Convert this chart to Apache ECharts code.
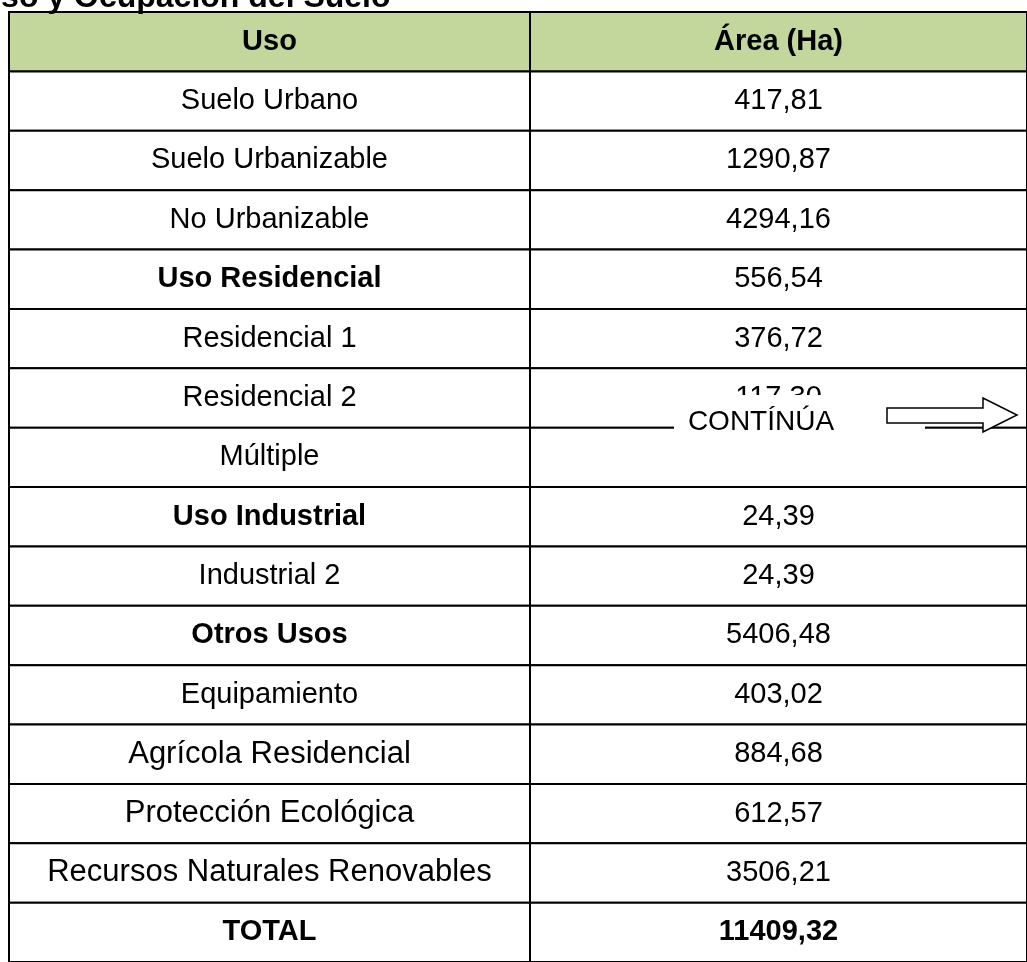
<!DOCTYPE html>
<html>
<head>
<meta charset="utf-8">
<title>Uso y Ocupación del Suelo</title>
<script src="https://cdn.jsdelivr.net/npm/echarts@6/dist/echarts.min.js"></script>
<style>
  html, body { margin: 0; padding: 0; background: #fff; }
  #main { width: 1027px; height: 962px; }
</style>
</head>
<body>
<div id="main"></div>
<script>
// datos de la tabla
var titulo = 'Uso y Ocupación del Suelo';
var encabezados = ['Uso', 'Área (Ha)'];
var usos = ['Suelo Urbano', 'Suelo Urbanizable', 'No Urbanizable', 'Uso Residencial', 'Residencial 1',
  'Residencial 2', 'Múltiple', 'Uso Industrial', 'Industrial 2', 'Otros Usos', 'Equipamiento',
  'Agrícola Residencial', 'Protección Ecológica', 'Recursos Naturales Renovables', 'TOTAL'];
var areas = [417.81, 1290.87, 4294.16, 556.54, 376.72, 117.30, null, 24.39, 24.39, 5406.48,
  403.02, 884.68, 612.57, 3506.21, 11409.32];
var usosNegrita = ['Uso Residencial', 'Uso Industrial', 'Otros Usos', 'TOTAL'];
var areasNegrita = ['TOTAL'];
// estas filas vienen con letra un poco mas grande en el original
var usosGrandes = ['Agrícola Residencial', 'Protección Ecológica', 'Recursos Naturales Renovables'];

var filas = ['__encabezado'].concat(usos);
var fuente = '"Liberation Sans", Arial, sans-serif';

function fmt(v) {
  return v == null ? '' : v.toFixed(2).replace('.', ',');
}

// una celda por fila, posicion sacada de los ejes
function celda(columna) {
  return function (params, api) {
    var i = api.value(1);
    var c = api.coord([0, i]);
    var s = api.size([1, 1]);
    var esEncabezado = i === 0;
    var texto, negrita, tam = 29;
    if (esEncabezado) {
      texto = encabezados[columna];
      negrita = true;
    } else if (columna === 0) {
      texto = usos[i - 1];
      negrita = usosNegrita.indexOf(texto) >= 0;
      if (usosGrandes.indexOf(texto) >= 0) tam = 31;
    } else {
      texto = fmt(areas[i - 1]);
      negrita = areasNegrita.indexOf(usos[i - 1]) >= 0;
    }
    return {
      type: 'group',
      children: [{
        type: 'rect',
        shape: { x: c[0] - s[0] / 2, y: c[1] - s[1] / 2, width: s[0], height: s[1] },
        style: { fill: esEncabezado ? '#c3d69b' : '#fff', stroke: '#000', lineWidth: 2 }
      }, {
        type: 'text',
        x: c[0],
        y: c[1],
        style: {
          text: texto,
          fill: '#000',
          font: (negrita ? 'bold ' : '') + tam + 'px ' + fuente,
          align: 'center',
          verticalAlign: 'middle'
        }
      }]
    };
  };
}

var myChart = echarts.init(document.getElementById('main'));
var option = {
  animation: false,
  grid: [
    { left: 9, top: 12, width: 521, height: 959 },
    { left: 530, top: 12, width: 498, height: 959 }
  ],
  xAxis: [
    { type: 'category', gridIndex: 0, data: [encabezados[0]], show: false },
    { type: 'category', gridIndex: 1, data: [encabezados[1]], show: false }
  ],
  yAxis: [
    { type: 'category', gridIndex: 0, data: filas, inverse: true, show: false },
    { type: 'category', gridIndex: 1, data: filas, inverse: true, show: false }
  ],
  series: [{
    type: 'custom',
    xAxisIndex: 0,
    yAxisIndex: 0,
    renderItem: celda(0),
    data: filas.map(function (f, i) { return [0, i]; }),
    silent: true
  }, {
    type: 'custom',
    xAxisIndex: 1,
    yAxisIndex: 1,
    renderItem: celda(1),
    data: filas.map(function (f, i) { return [0, i]; }),
    silent: true
  }],
  graphic: [{
    type: 'text',
    left: -22,
    top: -18,
    z: 100,
    style: { text: titulo, fill: '#000', font: 'bold 32px ' + fuente }
  }, {
    // recuadro blanco del aviso "continua"
    type: 'rect',
    z: 100,
    shape: { x: 674, y: 395, width: 251, height: 72 },
    style: { fill: '#fff' }
  }, {
    type: 'text',
    z: 101,
    x: 761,
    y: 422,
    style: { text: 'CONTÍNÚA', fill: '#000', font: '28px ' + fuente, align: 'center', verticalAlign: 'middle' }
  }, {
    type: 'polygon',
    z: 101,
    shape: { points: [[887, 408], [983, 408], [983, 398], [1017, 415], [983, 432], [983, 423], [887, 423]] },
    style: { fill: '#fff', stroke: '#000', lineWidth: 1.5 }
  }]
};
myChart.setOption(option);
myChart.resize();
</script>
</body>
</html>
